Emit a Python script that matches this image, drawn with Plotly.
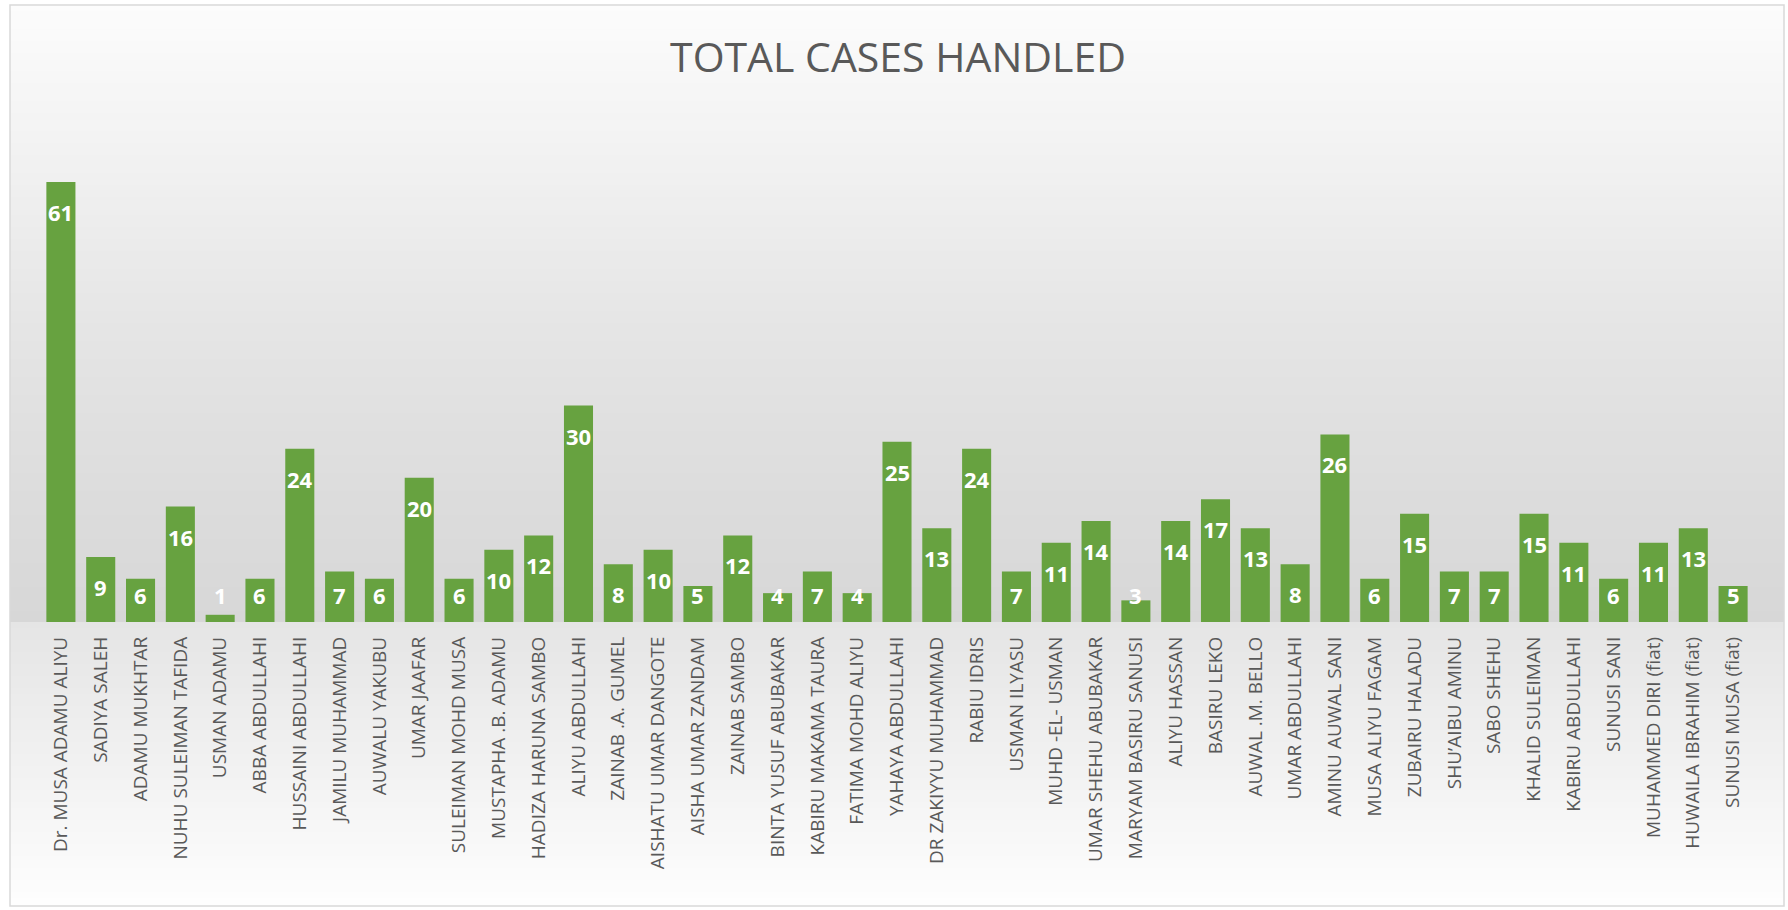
import plotly.graph_objects as go

names = ["Dr. MUSA ADAMU ALIYU", "SADIYA SALEH", "ADAMU MUKHTAR", "NUHU SULEIMAN TAFIDA",
         "USMAN ADAMU", "ABBA ABDULLAHI", "HUSSAINI ABDULLAHI", "JAMILU MUHAMMAD",
         "AUWALU YAKUBU", "UMAR JAAFAR", "SULEIMAN MOHD MUSA", "MUSTAPHA .B. ADAMU",
         "HADIZA HARUNA SAMBO", "ALIYU ABDULLAHI", "ZAINAB .A. GUMEL", "AISHATU UMAR DANGOTE",
         "AISHA UMAR ZANDAM", "ZAINAB SAMBO", "BINTA YUSUF ABUBAKAR", "KABIRU MAKAMA TAURA",
         "FATIMA MOHD ALIYU", "YAHAYA ABDULLAHI", "DR ZAKIYYU MUHAMMAD", "RABIU IDRIS",
         "USMAN ILYASU", "MUHD -EL- USMAN", "UMAR SHEHU ABUBAKAR", "MARYAM BASIRU SANUSI",
         "ALIYU HASSAN", "BASIRU LEKO", "AUWAL .M. BELLO", "UMAR ABDULLAHI",
         "AMINU AUWAL SANI", "MUSA ALIYU FAGAM", "ZUBAIRU HALADU", "SHU\u2019AIBU AMINU",
         "SABO SHEHU", "KHALID SULEIMAN", "KABIRU ABDULLAHI", "SUNUSI SANI",
         "MUHAMMED DIRI (fiat)", "HUWAILA IBRAHIM (fiat)", "SUNUSI MUSA (fiat)"]

cases = [61, 9, 6, 16, 1, 6, 24, 7, 6, 20, 6, 10, 12, 30, 8, 10, 5, 12, 4, 7, 4,
         25, 13, 24, 7, 11, 14, 3, 14, 17, 13, 8, 26, 6, 15, 7, 7, 15, 11, 6, 11, 13, 5]

W, H = 1788, 910
ML, MR, MT, MB = 41, 35, 117, 288
GREY = "#595959"

# pixel -> paper coords helpers (for background shapes)
def px_x(x):
    return (x - ML) / (W - ML - MR)

def px_y(y):
    return (H - MB - y) / (H - MT - MB)

# background gradient (Excel style), grey level by pixel row
stops = [(5, 252), (150, 242), (330, 229), (500, 220), (621, 215),
         (622, 229), (760, 241), (906, 254)]

def grey_at(y):
    for (y0, g0), (y1, g1) in zip(stops[:-1], stops[1:]):
        if y0 <= y <= y1:
            if y1 == y0:
                return g1
            return g0 + (g1 - g0) * (y - y0) / (y1 - y0)
    return 255

shapes = []
y = 5
while y < 906:
    y2 = min(y + 6, 906)
    if y < 622 < y2:
        y2 = 622
    g = int(round(grey_at((y + y2) / 2)))
    shapes.append(dict(type="rect", xref="paper", yref="paper", layer="below",
                       x0=px_x(10), x1=px_x(1784), y0=px_y(y2), y1=px_y(y),
                       fillcolor=f"rgb({g},{g},{g})", line_width=0))
    y = y2

shapes.append(dict(type="rect", xref="paper", yref="paper", layer="below",
                   x0=px_x(10), x1=px_x(1784), y0=px_y(906), y1=px_y(5),
                   line=dict(color="#d9d9d9", width=1.5), fillcolor="rgba(0,0,0,0)"))

fig = go.Figure(go.Bar(
    x=names, y=cases,
    marker_color="#67a240",
    marker_line_width=0,
    hoverinfo="x+y",
))

# data labels: inside end, clamped near baseline for short bars
annotations = []
for n, v in zip(names, cases):
    if v >= 8:
        annotations.append(dict(x=n, y=v, yshift=-30, yanchor="middle"))
    else:
        annotations.append(dict(x=n, y=0, yshift=27, yanchor="middle"))
for a, v in zip(annotations, cases):
    a.update(showarrow=False, text=str(v),
             font=dict(family="Open Sans", size=22, color="white", weight="bold"))

fig.update_layout(
    width=W, height=H,
    margin=dict(l=ML, r=MR, t=MT, b=MB),
    paper_bgcolor="white",
    plot_bgcolor="rgba(0,0,0,0)",
    bargap=0.27,
    showlegend=False,
    shapes=shapes,
    annotations=annotations,
    title=dict(text="TOTAL CASES HANDLED", x=898 / W, xanchor="center",
               y=1 - 58 / H, yanchor="middle",
               font=dict(family="Open Sans", size=41, color=GREY)),
    font=dict(family="Open Sans", color=GREY),
)
fig.update_xaxes(tickangle=-90, tickfont=dict(size=19, color=GREY),
                 showgrid=False, showline=False, ticks="", ticklabelstandoff=10)
fig.update_yaxes(range=[0, 70], visible=False, showgrid=False)

fig.write_html("out.html", config={"displayModeBar": False},
               post_script="document.body.style.margin='0';")
